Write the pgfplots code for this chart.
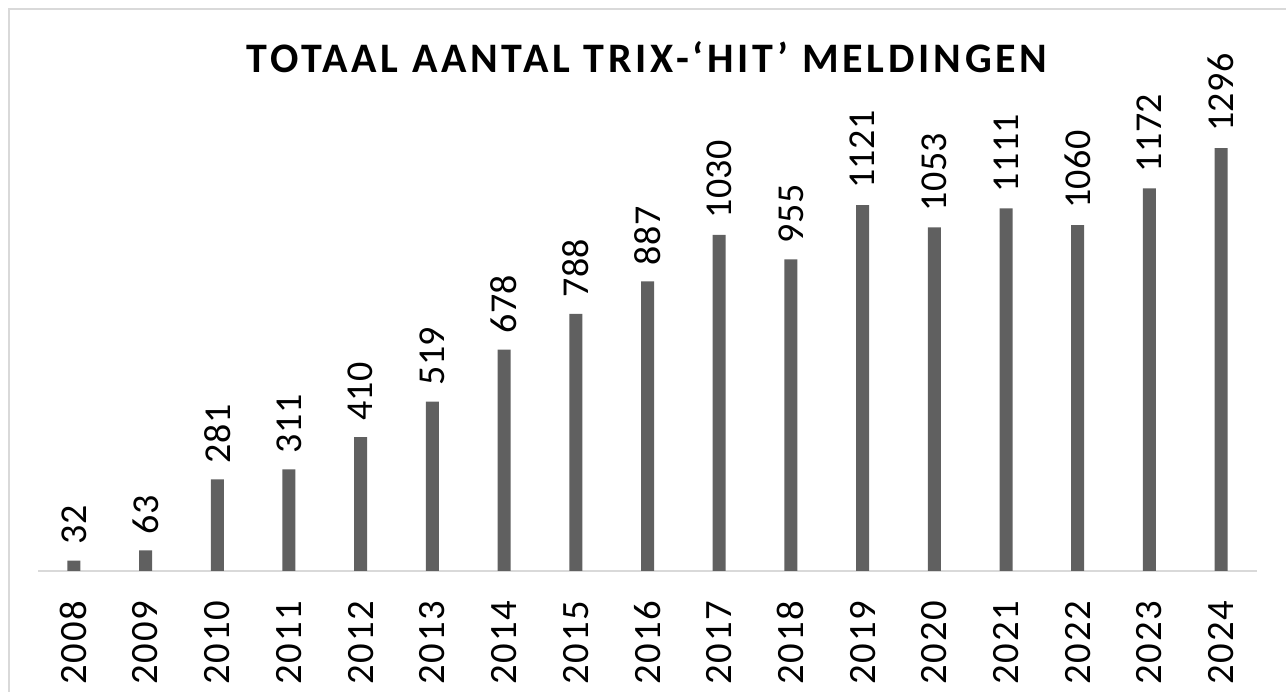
\documentclass[border=0pt]{standalone}
\usepackage{pgfplots}
\pgfplotsset{compat=1.18}
\usepackage{fontspec}
\setmainfont{Carlito}
\newfontfamily\titlefont[LetterSpace=9]{Carlito}
\newfontfamily\tickfont[LetterSpace=5]{Carlito}
\newfontfamily\labelfont[LetterSpace=1]{Carlito}
\definecolor{barcol}{RGB}{96,96,96}
\definecolor{framecol}{RGB}{217,217,217}
\begin{document}
\begin{tikzpicture}[x=0.75pt,y=0.75pt]
\useasboundingbox (0,0) rectangle (1286,692);
\begin{scope}
\clip (0,0) rectangle (1286,692);
\draw[framecol, line width=1.1pt] (9,-20) -- (9,683) -- (1300,683);
\end{scope}
\node[font=\titlefont\bfseries\fontsize{31.5}{36}\selectfont] at (647,635) {TOTAAL AANTAL TRIX-‘HIT’ MELDINGEN};
\begin{axis}[
  at={(28.5pt,90.75pt)}, anchor=south west,
  scale only axis, width=914.25pt, height=342.7pt,
  xmin=-0.5, xmax=16.5, ymin=0, ymax=1400,
  clip=false,
  axis x line*=bottom, axis y line=none,
  x axis line style={framecol, line width=1.1pt, -},
  ytick=\empty,
  xtick={0,...,16},
  xticklabels={2008,2009,2010,2011,2012,2013,2014,2015,2016,2017,2018,2019,2020,2021,2022,2023,2024},
  major tick length=0pt,
  xticklabel style={rotate=90, anchor=east, font=\tickfont\fontsize{29}{31}\selectfont, inner sep=0pt},
  xticklabel shift=22pt,
  ybar, bar width=9.75pt,
  /pgf/number format/.cd, 1000 sep={}, assume math mode=true, /pgfplots/.cd,
  nodes near coords,
  every node near coord/.append style={rotate=90, anchor=west, font=\labelfont\fontsize{28.5}{30}\selectfont, inner xsep=12pt, inner ysep=0pt, text=black},
]
\addplot[fill=barcol, draw=none] coordinates {
(0,32) (1,63) (2,281) (3,311) (4,410) (5,519) (6,678) (7,788) (8,887)
(9,1030) (10,955) (11,1121) (12,1053) (13,1111) (14,1060) (15,1172) (16,1296)};
\end{axis}
\end{tikzpicture}
\end{document}
